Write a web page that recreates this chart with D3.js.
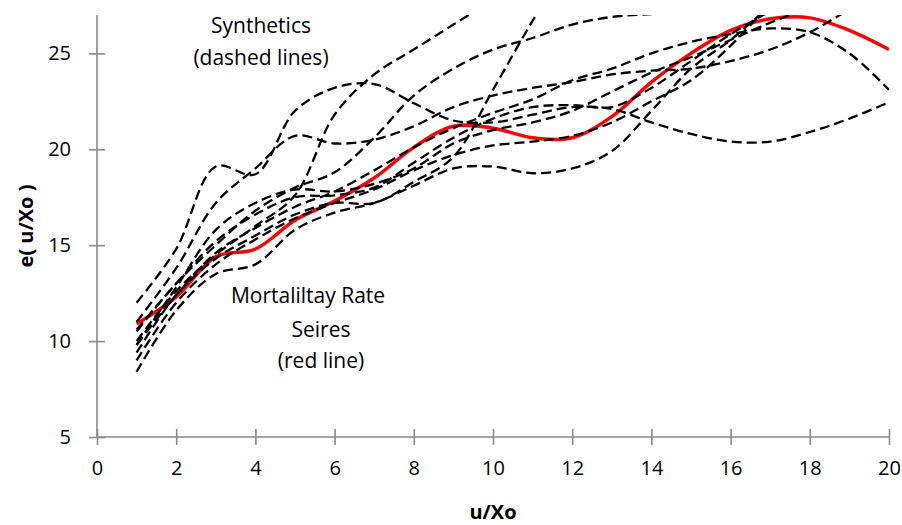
<!DOCTYPE html>
<html>
<head>
<meta charset="utf-8">
<script src="https://cdn.jsdelivr.net/npm/d3@7"></script>
<style>
  body { margin: 0; background: #fff; }
  svg { font-family: "Open Sans", sans-serif; }
</style>
</head>
<body>
<svg id="chart" width="902" height="525"></svg>
<script>
// u/Xo positions shared by every series
var uValues = [1, 2, 3, 4, 5, 6, 7, 8, 9, 10, 11, 12, 13, 14, 15, 16, 17, 18, 19, 20];

var xTicks = [0, 2, 4, 6, 8, 10, 12, 14, 16, 18, 20];
var yTicks = [5, 10, 15, 20, 25];

// mortality rate series (red)
var mortality = [10.9, 12.3, 14.4, 14.8, 16.3, 17.3, 18.5, 20.1, 21.2, 21.1, 20.6, 20.6, 21.7, 23.5, 25.0, 26.2, 26.8, 26.85, 26.2, 25.2];

// synthetic series (dashed); shorter ones leave the top of the plot
var synth1 = [12.0, 14.8, 19.1, 18.7, 22.0, 23.2, 23.4, 22.4, 21.5, 21.4, 21.8, 22.2, 22.1, 21.4, 20.8, 20.4, 20.4, 20.9, 21.6, 22.45];
var synth2 = [11.0, 13.8, 17.2, 19.0, 20.7, 20.3, 20.5, 21.2, 22.2, 22.8, 23.2, 23.5, 23.9, 24.1, 24.2, 24.6, 25.2, 26.1, 27.3];
var synth3 = [10.0, 12.6, 14.5, 16.0, 17.6, 21.8, 23.9, 25.2, 26.5, 27.8];
var synth4 = [10.5, 13.0, 15.0, 16.8, 18.0, 18.8, 20.6, 22.8, 24.2, 25.2, 25.8, 26.5, 26.9, 27.05, 27.2, 27.4, 27.5, 27.6, 27.6, 27.5];
var synth5 = [9.8, 12.4, 14.6, 15.9, 17.0, 17.8, 18.9, 20.1, 21.1, 21.9, 22.6, 23.6, 24.2, 25.0, 25.6, 26.0, 26.3, 26.1, 25.0, 23.1];
var synth6 = [9.4, 12.4, 14.3, 15.5, 16.6, 17.2, 17.2, 18.3, 19.6, 23.1, 26.7, 30.0];
var synth7 = [9.0, 12.0, 14.0, 15.3, 16.4, 17.2, 17.9, 18.9, 19.7, 20.2, 20.4, 20.7, 21.4, 22.5, 23.6, 25.4, 27.6];
var synth8 = [8.4, 11.6, 13.5, 14.0, 15.8, 16.7, 17.2, 18.1, 19.0, 19.1, 18.75, 19.0, 19.9, 22.0, 24.2, 25.7, 27.5];
var synth9 = [10.6, 13.0, 15.2, 16.6, 17.5, 17.6, 18.0, 19.3, 20.6, 21.6, 22.2, 22.3, 22.2, 23.2, 24.6, 26.0, 27.2];
var synth10 = [9.8, 12.8, 15.8, 17.2, 17.9, 17.8, 18.2, 19.0, 20.3, 21.0, 21.4, 22.0, 23.0, 24.0, 24.8, 25.7, 26.6, 27.4];

var synthetics = [synth1, synth2, synth3, synth4, synth5, synth6, synth7, synth8, synth9, synth10];

var svg = d3.select("#chart");
var margin = {top: 15, right: 13, bottom: 88, left: 97};
var width = +svg.attr("width") - margin.left - margin.right;
var height = +svg.attr("height") - margin.top - margin.bottom;

var x = d3.scaleLinear().domain([0, 20]).range([0, width]);
var y = d3.scaleLinear().domain([5, 27]).range([height, 0]);

var g = svg.append("g").attr("transform", "translate(" + margin.left + "," + margin.top + ")");

g.append("clipPath").attr("id", "plot-clip")
  .append("rect").attr("width", width).attr("height", height);

var line = d3.line()
  .x(function(d, i) { return x(uValues[i]); })
  .y(function(d) { return y(d); })
  .curve(d3.curveCatmullRom.alpha(0.5));

var lines = g.append("g").attr("clip-path", "url(#plot-clip)");

lines.append("path")
  .datum(mortality)
  .attr("fill", "none")
  .attr("stroke", "#ff0000")
  .attr("stroke-width", 3.5)
  .attr("d", line);

lines.selectAll(".synth")
  .data(synthetics)
  .enter().append("path")
    .attr("class", "synth")
    .attr("fill", "none")
    .attr("stroke", "#000")
    .attr("stroke-width", 2.3)
    .attr("stroke-dasharray", "10,5")
    .attr("d", line);

// axes, ticks crossing the line
var axisColor = "#898989";

var xAxis = g.append("g")
  .attr("transform", "translate(0," + height + ")")
  .call(d3.axisBottom(x).tickValues(xTicks).tickSize(8).tickPadding(18).tickFormat(d3.format("d")));

var yAxis = g.append("g")
  .call(d3.axisLeft(y).tickValues(yTicks).tickSize(8).tickPadding(18).tickFormat(d3.format("d")));

[xAxis, yAxis].forEach(function(ax) {
  ax.select(".domain").attr("stroke", axisColor).attr("stroke-width", 1.6);
  ax.selectAll(".tick line").attr("stroke", axisColor).attr("stroke-width", 1.6);
  ax.selectAll(".tick text").attr("fill", "#000").style("font-size", "20px").style("font-family", "Open Sans, sans-serif");
});
xAxis.select(".domain").attr("d", "M0,0H" + width);
yAxis.select(".domain").attr("d", "M0,0V" + height);
xAxis.selectAll(".tick line").attr("y1", -8).attr("y2", 8);
yAxis.selectAll(".tick line").attr("x1", -8).attr("x2", 8);
xAxis.selectAll(".tick text").attr("y", 24).attr("dy", "0.71em");
yAxis.selectAll(".tick text").attr("x", -26);

// axis titles
svg.append("text")
  .attr("x", 493).attr("y", 519)
  .attr("text-anchor", "middle")
  .style("font-size", "20px").style("font-weight", "bold")
  .text("u/Xo");

svg.append("text")
  .attr("transform", "translate(33,226) rotate(-90)")
  .attr("text-anchor", "middle")
  .style("font-size", "20px").style("font-weight", "bold")
  .text("e( u/Xo )");

// annotations
var notes = [
  {text: "Synthetics", x: 261, y: 33},
  {text: "(dashed lines)", x: 261, y: 65},
  {text: "Mortaliltay Rate", x: 308, y: 303},
  {text: "Seires", x: 321, y: 337},
  {text: "(red line)", x: 321, y: 368}
];
svg.selectAll(".note")
  .data(notes)
  .enter().append("text")
    .attr("class", "note")
    .attr("x", function(d) { return d.x; })
    .attr("y", function(d) { return d.y; })
    .attr("text-anchor", "middle")
    .style("font-size", "21px")
    .text(function(d) { return d.text; });
</script>
</body>
</html>
